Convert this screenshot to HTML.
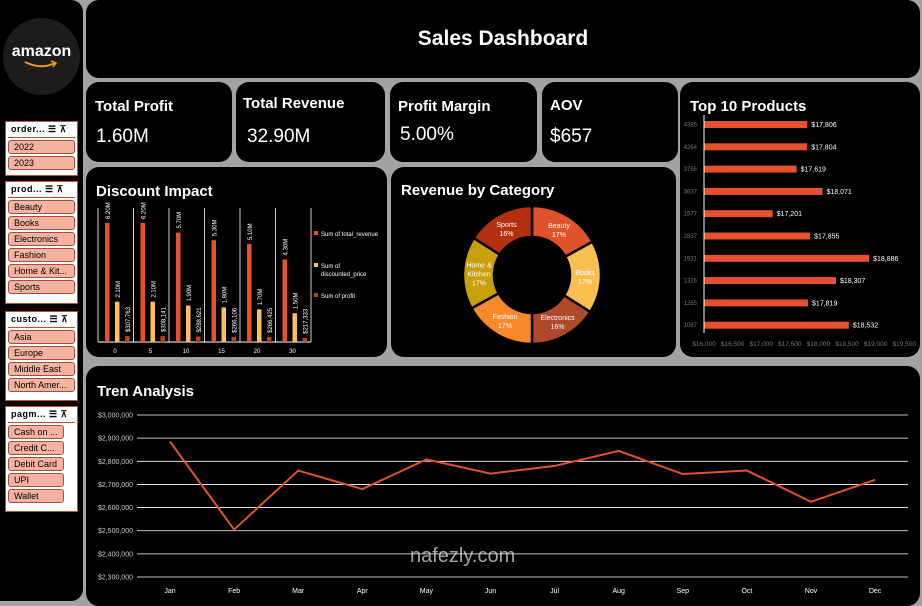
<!DOCTYPE html>
<html><head><meta charset="utf-8">
<style>
*{box-sizing:border-box;margin:0;padding:0}
body{width:922px;height:601px;background:#a3a3a3;font-family:"Liberation Sans",sans-serif;position:relative;overflow:hidden;color:#fff}
.p{position:absolute;background:#000;border-radius:13px}
.kt{position:absolute;font-weight:bold;font-size:15px}
.kv{position:absolute;font-size:19px}
.sl{position:absolute;left:5px;width:73px;background:#fff;border:1px solid #c0502a}
.sl .h{font-size:9px;font-weight:bold;color:#000;padding:2px 3px;border-bottom:1px solid #c0502a;margin:0 2px 2px;letter-spacing:.5px}
.sl .b{margin:1px 2px 2px;height:14px;background:#f4b3a0;border:1px solid #a05040;border-radius:3px;font-size:9px;color:#000;padding:1px 5px;white-space:nowrap;overflow:hidden}
svg text{font-family:"Liberation Sans",sans-serif}
</style></head><body>
<div class="p" style="left:0;top:0;width:83px;height:601px;border-radius:0 12px 12px 0"></div>
<div style="position:absolute;left:3px;top:18px;width:77px;height:77px;border-radius:50%;background:#1c1c1c">
<div style="position:absolute;top:25px;width:100%;text-align:center;font-weight:bold;font-size:16px;color:#fff">amazon</div>
<svg style="position:absolute;left:20px;top:42px" width="36" height="10"><path d="M2 2 Q18 10 32 3" stroke="#f29a1e" stroke-width="2" fill="none"/><path d="M28 1 L33 3 L30 7" stroke="#f29a1e" stroke-width="1.5" fill="none"/></svg></div>

<div class="sl" style="top:121px;height:55px"><div class="h">order... ☰ ⊼</div>
<div class="b">2022</div><div class="b">2023</div></div>
<div class="sl" style="top:181px;height:123px"><div class="h">prod... ☰ ⊼</div>
<div class="b">Beauty</div><div class="b">Books</div><div class="b">Electronics</div><div class="b">Fashion</div><div class="b">Home &amp; Kit...</div><div class="b">Sports</div></div>
<div class="sl" style="top:311px;height:90px"><div class="h">custo... ☰ ⊼</div>
<div class="b">Asia</div><div class="b">Europe</div><div class="b">Middle East</div><div class="b">North Amer...</div></div>
<div class="sl" style="top:406px;height:106px"><div class="h">pagm... ☰ ⊼</div>
<div class="b" style="width:56px">Cash on ...</div><div class="b" style="width:56px">Credit C...</div><div class="b" style="width:56px">Debit Card</div><div class="b" style="width:56px">UPI</div><div class="b" style="width:56px">Wallet</div></div>

<div class="p" style="left:86px;top:0;width:834px;height:78px"><div style="position:absolute;left:0;right:0;top:27px;text-align:center;font-size:21px;font-weight:bold">Sales Dashboard</div></div>

<div class="p" style="left:86px;top:82px;width:146px;height:80px"><div class="kt" style="left:9px;top:16px">Total Profit</div><div class="kv" style="left:10px;top:44px">1.60M</div></div>
<div class="p" style="left:236px;top:82px;width:149px;height:80px"><div class="kt" style="left:7px;top:13px">Total Revenue</div><div class="kv" style="left:11px;top:44px">32.90M</div></div>
<div class="p" style="left:390px;top:82px;width:147px;height:80px"><div class="kt" style="left:8px;top:16px">Profit Margin</div><div class="kv" style="left:10px;top:42px">5.00%</div></div>
<div class="p" style="left:542px;top:82px;width:136px;height:80px"><div class="kt" style="left:8px;top:15px">AOV</div><div class="kv" style="left:8px;top:44px">$657</div></div>

<div class="p" style="left:680px;top:82px;width:240px;height:275px"><div class="kt" style="left:10px;top:16px">Top 10 Products</div></div>
<div class="p" style="left:86px;top:167px;width:301px;height:190px"><div class="kt" style="left:10px;top:16px">Discount Impact</div></div>
<div class="p" style="left:391px;top:167px;width:285px;height:190px"><div class="kt" style="left:10px;top:15px">Revenue by Category</div></div>
<div class="p" style="left:86px;top:366px;width:834px;height:240px"><div class="kt" style="left:11px;top:17px">Tren Analysis</div></div>

<svg id="s" width="922" height="601" style="position:absolute;left:0;top:0"></svg>
<div style="position:absolute;left:410px;top:545px;font-size:20px;color:#ccc;opacity:.8">nafezly.com</div>
<script>
const NS='http://www.w3.org/2000/svg',S=document.getElementById('s');
function el(t,a,txt){const e=document.createElementNS(NS,t);for(const k in a)e.setAttribute(k,a[k]);if(txt!==undefined)e.textContent=txt;S.appendChild(e);return e;}

// Top 10 products
const prodIds=['4385','4264','3766','3637','1577','2837','1931','1326','1265','1087'];
const prodVals=[17806,17804,17619,18071,17201,17855,18886,18307,17819,18532];
const prodTicks=[16000,16500,17000,17500,18000,18500,19000,19500];
const px=v=>704+(v-16000)*0.0572;
prodTicks.forEach(t=>{const e=el('text',{x:px(t),y:346,fill:'#777','font-size':6.5,'text-anchor':'middle'},'$'+t.toLocaleString('en-US'));
});
prodIds.forEach((id,i)=>{const y=124.5+i*22.3;
const l=el('text',{x:697,y:y+2,fill:'#777','font-size':6,'text-anchor':'end'},id);
const r=el('rect',{x:704,y:y-3.5,width:px(prodVals[i])-704,height:7,fill:'#e6502a'});
const v=el('text',{x:px(prodVals[i])+4,y:y+2.5,fill:'#fff','font-size':7},'$'+prodVals[i].toLocaleString('en-US'));});
el('line',{x1:704,y1:115,x2:704,y2:333,stroke:'#fff','stroke-width':1});

// Discount impact
const discCats=['0','5','10','15','20','30'];
const discRevenue=[6.2,6.2,5.7,5.3,5.1,4.3];
const discPrice=[2.1,2.1,1.9,1.8,1.7,1.5];
const discProfit=[307763,308141,288621,266106,266425,217333];
const discRevLbl=['6.20M','6.20M','5.70M','5.30M','5.10M','4.30M'];
const discPriceLbl=['2.10M','2.10M','1.90M','1.80M','1.70M','1.50M'];
const base=342,dy=v=>base-v*19.2;
el('line',{x1:98,y1:base,x2:311,y2:base,stroke:'#fff'});
discCats.forEach((c,i)=>{const gx=98+i*35.5;
el('line',{x1:gx,y1:208,x2:gx,y2:base,stroke:'#fff','stroke-width':0.8});
const t=el('text',{x:gx+17,y:353,fill:'#fff','font-size':6,'text-anchor':'middle'},c);
const bars=[[discRevenue[i],'#e6502a',7,discRevLbl[i]],[discPrice[i],'#fcc05a',17,discPriceLbl[i]],[discProfit[i]/1e6,'#b8401f',27,'$'+discProfit[i].toLocaleString('en-US')]];
bars.forEach(b=>{const r=el('rect',{x:gx+b[2],y:dy(b[0]),width:4.5,height:base-dy(b[0]),fill:b[1]});
const ty=dy(b[0])-4,tx=gx+b[2]+5;const l=el('text',{x:tx,y:ty,fill:'#fff','font-size':6,transform:`rotate(-90 ${tx} ${ty})`},b[3]);});});
el('line',{x1:311,y1:208,x2:311,y2:base,stroke:'#fff','stroke-width':0.8});
[['Sum of total_revenue','#e6502a',236],['Sum of','#fcc05a',268],['Sum of profit','#b8401f',298]].forEach(L=>{el('rect',{x:314,y:L[2]-5,width:4,height:4,fill:L[1]});
const t=el('text',{x:321,y:L[2],fill:'#fff','font-size':6},L[0]);});
el('text',{x:321,y:276,fill:'#fff','font-size':6},'discounted_price');

// Donut
const catNames=['Beauty','Books','Electronics','Fashion','Home & Kitchen','Sports'];
const catShares=[17,17,16,17,17,16];
const catColors=['#e0522a','#fbbf4f','#b0482a','#f7892a','#c99f0a','#b3300f'];
const cx=532,cy=275,R=69,r=38;let tot=catShares.reduce((a,b)=>a+b,0),a0=-Math.PI/2;
catShares.forEach((v,i)=>{const a1=a0+v/tot*2*Math.PI,P=(rad,a)=>[cx+rad*Math.cos(a),cy+rad*Math.sin(a)];
const [x1,y1]=P(R,a0),[x2,y2]=P(R,a1),[x3,y3]=P(r,a1),[x4,y4]=P(r,a0);
const p=el('path',{d:`M${x1},${y1}A${R},${R} 0 0 1 ${x2},${y2}L${x3},${y3}A${r},${r} 0 0 0 ${x4},${y4}Z`,fill:catColors[i],stroke:'#000','stroke-width':2.5});

const am=(a0+a1)/2,[lx,ly]=P(53,am);const lines=catNames[i]==='Home & Kitchen'?['Home &','Kitchen']:[catNames[i]];
lines.concat([v+'%']).forEach((s,k,arr)=>{const t=el('text',{x:lx,y:ly+(k-(arr.length-1)/2)*9+3,fill:'#fff','font-size':7,'text-anchor':'middle'},s);});
a0=a1;});

// Trend
const months=['Jan','Feb','Mar','Apr','May','Jun','Jul','Aug','Sep','Oct','Nov','Dec'];
const revenueByMonth=[2885000,2505000,2760000,2680000,2808000,2747000,2780000,2845000,2745000,2760000,2625000,2720000];
const trendTicks=[2300000,2400000,2500000,2600000,2700000,2800000,2900000,3000000];
const ty=v=>577-(v-2300000)*0.0002314,tx=i=>170+i*64.1;
trendTicks.forEach(t=>{el('line',{x1:137,y1:ty(t),x2:908,y2:ty(t),stroke:'#fff','stroke-width':0.8});
const e=el('text',{x:133,y:ty(t)+2.5,fill:'#ccc','font-size':7,'text-anchor':'end'},'$'+t.toLocaleString('en-US'));});
months.forEach((m,i)=>{const e=el('text',{x:tx(i),y:593,fill:'#fff','font-size':7,'text-anchor':'middle'},m);});
const ln=el('polyline',{points:revenueByMonth.map((v,i)=>tx(i)+','+ty(v)).join(' '),fill:'none',stroke:'#e0522a','stroke-width':2});

</script>
</body></html>
